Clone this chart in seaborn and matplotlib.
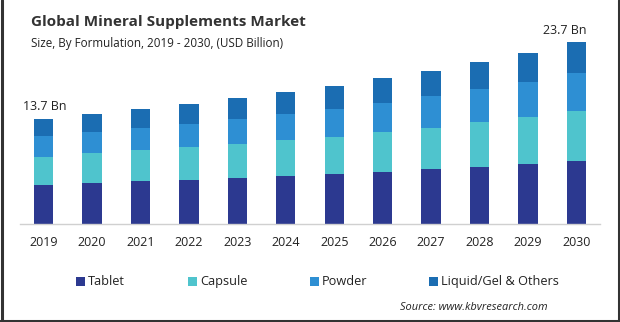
import matplotlib
matplotlib.use("Agg")
import matplotlib.pyplot as plt
from matplotlib.patches import Rectangle
from matplotlib.lines import Line2D
import numpy as np
import pandas as pd
import seaborn as sns

years = ["2019", "2020", "2021", "2022", "2023", "2024", "2025", "2026", "2027", "2028", "2029", "2030"]
tablet = [5.08, 5.35, 5.61, 5.74, 6.00, 6.26, 6.52, 6.78, 7.17, 7.43, 7.82, 8.21]
capsule = [3.65, 3.91, 4.04, 4.30, 4.43, 4.69, 4.82, 5.22, 5.35, 5.87, 6.13, 6.52]
powder = [2.74, 2.74, 2.87, 3.00, 3.26, 3.39, 3.65, 3.78, 4.17, 4.30, 4.56, 4.95]
liquid = [2.23, 2.35, 2.48, 2.61, 2.74, 2.87, 3.00, 3.26, 3.26, 3.52, 3.78, 4.02]
segments = ["Tablet", "Capsule", "Powder", "Liquid/Gel & Others"]
colors = ["#2C3990", "#4FC4CD", "#2E8FD3", "#1B6DB2"]

sns.set_theme(style="white")
plt.rcParams["font.family"] = ["Open Sans", "DejaVu Sans"]

df = pd.DataFrame({"year": years, "Tablet": tablet, "Capsule": capsule,
                   "Powder": powder, "Liquid/Gel & Others": liquid})
cum = df[segments].cumsum(axis=1)

W, H = 620, 322
fig = plt.figure(figsize=(W / 100, H / 100), dpi=100)
ax = fig.add_axes([20 / W, 98 / H, 580 / W, (7.67 * 26) / H])

# stacked bars: draw cumulative totals from the top segment down
for seg, col in zip(reversed(segments), reversed(colors)):
    sns.barplot(x=df["year"], y=cum[seg], color=col, width=0.4,
                saturation=1, ax=ax, linewidth=0)

ax.set_xlim(-0.49, 11.49)
ax.set_ylim(0, 26)
ax.set_xlabel("")
ax.set_ylabel("")
ax.set_yticks([])
for s in ["top", "right", "left"]:
    ax.spines[s].set_visible(False)
ax.spines["bottom"].set_color("#d0d0d0")
ax.spines["bottom"].set_linewidth(1)
ax.tick_params(axis="x", length=0, pad=9, labelsize=9, labelcolor="#222222")

totals = cum["Liquid/Gel & Others"].values
ax.annotate(f"{totals[0]:.1f} Bn", (0, totals[0]), xytext=(1, 4),
            textcoords="offset points", ha="center", va="bottom",
            fontsize=9, color="#222222")
ax.annotate(f"{totals[-1]:.1f} Bn", (11, totals[-1]), xytext=(-8, 4),
            textcoords="offset points", ha="center", va="bottom",
            fontsize=9, color="#222222")

fig.text(31 / W, 1 - 22 / H, "Global Mineral Supplements Market",
         fontsize=11, fontweight="bold", color="#333333", va="center")
fig.text(31 / W, 1 - 43 / H, "Size, By Formulation, 2019 - 2030, (USD Billion)",
         fontsize=8.4, color="#222222", va="center")

# legend row: colour key squares with their labels
legend_x = [76, 188, 310, 429]
for x0, seg, col in zip(legend_x, segments, colors):
    fig.add_artist(Rectangle((x0 / W, 1 - 286 / H), 9 / W, 9 / H,
                             facecolor=col, edgecolor="none", transform=fig.transFigure))
    fig.text((x0 + 12) / W, 1 - 281.5 / H, seg, fontsize=9.2, color="#222222",
             va="center", ha="left")

fig.text(548 / W, 1 - 308 / H, "Source: www.kbvresearch.com",
         fontsize=7.9, style="italic", color="#222222", ha="right", va="center")

# frame around the figure
for xs, ys in [([1.5 / W, 1.5 / W], [0, 1]),
               ([1 - 1.5 / W, 1 - 1.5 / W], [0, 1]),
               ([0, 1], [1.5 / H, 1.5 / H])]:
    fig.add_artist(Line2D(xs, ys, color="#333333", linewidth=2.2, transform=fig.transFigure))

fig.savefig("out.png", dpi=100)
